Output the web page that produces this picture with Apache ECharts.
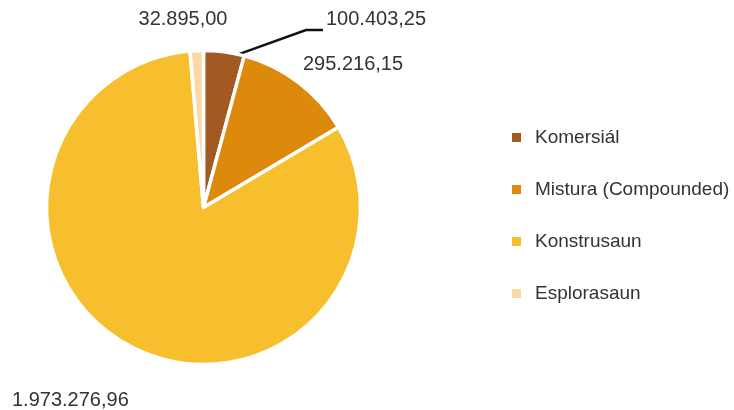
<!DOCTYPE html>
<html><head><meta charset="utf-8">
<script src="https://cdn.jsdelivr.net/npm/echarts@6/dist/echarts.min.js"></script>
<style>html,body{margin:0;padding:0;background:#fff}#c{width:734px;height:410px}</style>
</head><body><div id="c"></div>
<script>
var categories = ['Komersiál', 'Mistura (Compounded)', 'Konstrusaun', 'Esplorasaun'];
var values = [100403.25, 295216.15, 1973276.96, 32895.00];
var valueLabels = ['100.403,25', '295.216,15', '1.973.276,96', '32.895,00'];
var colors = ['#A35A22', '#DD890B', '#F7BE2E', '#FADAA2'];
var labelSpots = [[326, 19, 'left'], [303, 64, 'left'], [12, 400, 'left'], [183, 19, 'center']];

var CX = 203.5, CY = 207.5, R = 157;
var total = values.reduce(function (a, b) { return a + b; }, 0);

var chart = echarts.init(document.getElementById('c'));
chart.setOption({
  animation: false,
  color: colors,
  legend: {
    orient: 'vertical', left: 510, top: 128, itemGap: 33, padding: 0,
    icon: 'rect', itemWidth: 11, itemHeight: 11,
    textStyle: { fontFamily: 'Liberation Sans', fontSize: 19, color: '#333', padding: [0, 0, 0, 8] },
    data: categories
  },
  series: [{
    type: 'pie', center: [CX, CY], radius: R, startAngle: 90, clockwise: true,
    itemStyle: { borderColor: '#fff', borderWidth: 3.5 },
    label: {
      show: true, position: 'outside', overflow: 'none',
      formatter: function (p) { return valueLabels[p.dataIndex]; },
      fontFamily: 'Liberation Sans', fontSize: 20, color: '#333'
    },
    labelLine: { show: true, length: 10, length2: 18, lineStyle: { color: '#111', width: 2.5 } },
    labelLayout: function (p) {
      var i = p.dataIndex, s = labelSpots[i];
      var out = { x: s[0], y: s[1], align: s[2], verticalAlign: 'middle' };
      if (i === 0) {
        var frac = values[0] / total * 0.85;
        var a = Math.PI / 2 - frac * 2 * Math.PI;
        var p0 = [CX + R * Math.cos(a), CY - R * Math.sin(a)];
        out.labelLinePoints = [p0, [s[0] - 20, s[1] + 11], [s[0] - 3, s[1] + 11]];
      }
      return out;
    },
    data: categories.map(function (c, i) {
      return { name: c, value: values[i], labelLine: { show: i === 0 } };
    })
  }]
});
</script></body></html>
